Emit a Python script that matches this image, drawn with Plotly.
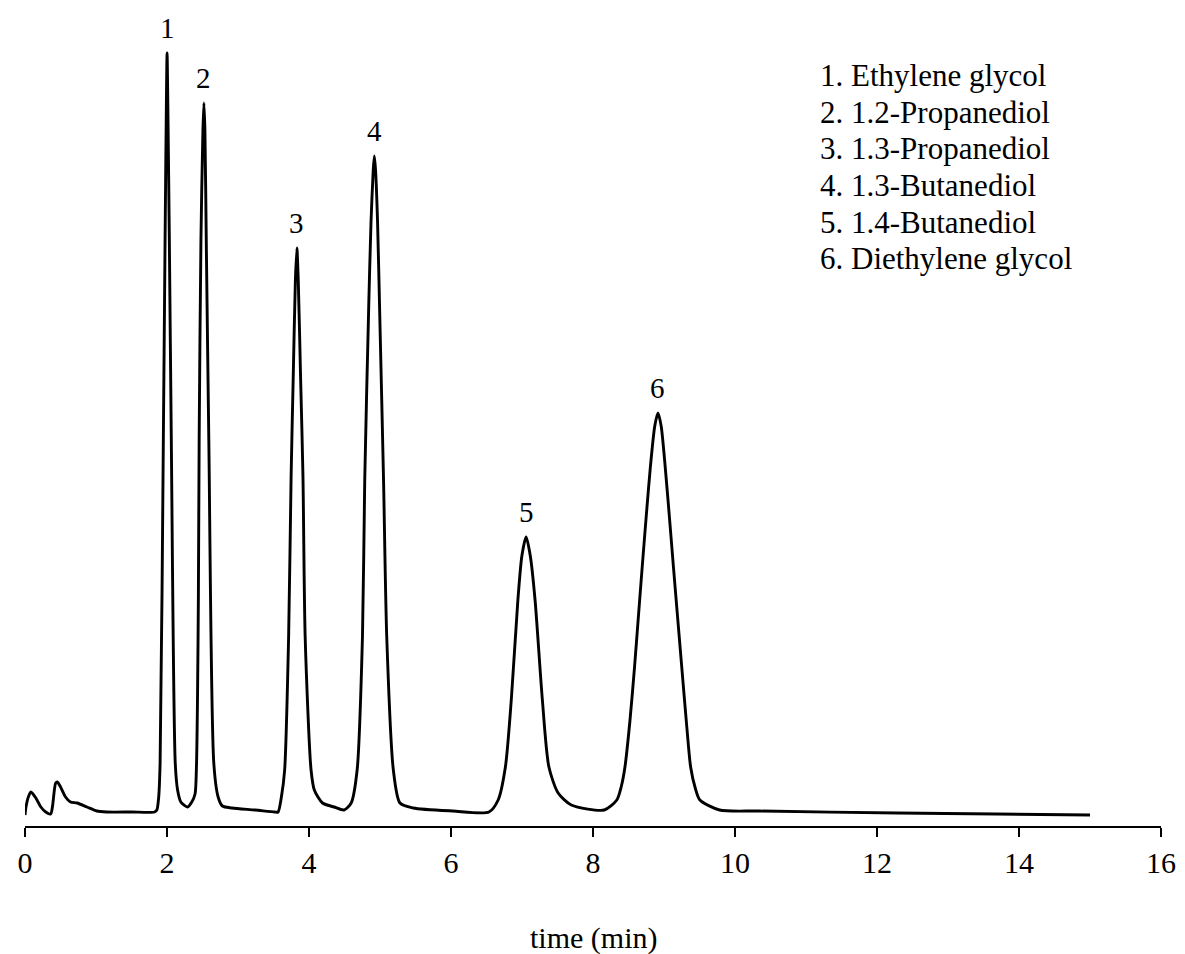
import plotly.graph_objects as go

# Chromatogram trace: time (min) and detector signal (arbitrary units)
time_min = [
    0.0, 0.014, 0.047, 0.084, 0.153, 0.223, 0.292, 0.362, 0.386, 0.432, 0.455, 0.501,
    0.571, 0.640, 0.734, 0.873, 1.012, 1.151, 1.500, 1.824, 1.857, 1.882, 1.903,
    1.949, 1.973, 1.991, 2.001, 2.012, 2.033, 2.060, 2.116, 2.149, 2.195, 2.289,
    2.349, 2.395, 2.415, 2.430, 2.442, 2.453, 2.478, 2.506, 2.520, 2.534, 2.553, 2.589,
    2.659, 2.720, 2.780, 2.915, 3.240, 3.518,
    3.564, 3.611, 3.657, 3.713, 3.748, 3.779, 3.808, 3.829, 3.849, 3.880, 3.915,
    3.946, 4.029, 4.075, 4.190, 4.353, 4.493,
    4.594, 4.678, 4.753, 4.785, 4.841, 4.873, 4.904, 4.920, 4.938, 4.966,
    4.994, 5.050, 5.095, 5.188, 5.281, 5.467, 6.024, 6.535,
    6.664, 6.766, 6.849, 6.942, 6.998, 7.058, 7.117, 7.184, 7.287,
    7.379, 7.509, 7.694, 8.158,
    8.335, 8.400, 8.450, 8.520, 8.585, 8.640, 8.693, 8.750, 8.808, 8.870, 8.915,
    8.960, 9.017, 9.075, 9.133, 9.190, 9.250, 9.320, 9.375, 9.440, 9.505,
    9.783, 10.337, 12.290, 13.680, 15.000,
]
signal = [
    11, 19, 29, 34, 28, 19, 14, 12, 19, 43, 44, 39,
    29, 24, 23, 19, 15, 14, 14, 14, 16, 28, 63,
    391, 586, 720, 773, 720, 586, 391, 63, 36, 24, 19,
    24, 32, 60, 130, 229, 386, 586, 696, 723, 696, 586, 386,
    63, 29, 20, 18, 16, 14,
    14, 29, 56, 189, 350, 453, 545, 578, 545, 453, 350,
    189, 56, 36, 23, 19, 16,
    23, 56, 189, 346, 519, 603, 655, 670, 655, 603,
    519, 346, 189, 56, 23, 18, 15, 14,
    26, 59, 126, 226, 270, 289, 270, 226, 126,
    59, 33, 21, 16,
    26, 40, 59, 105, 159, 210, 259, 310, 359, 400, 413,
    400, 359, 310, 259, 210, 159, 100, 59, 38, 26,
    16, 15, 13, 12, 11,
]

peak_numbers = ["1", "2", "3", "4", "5", "6"]
peak_times = [2.001, 2.520, 3.829, 4.920, 7.058, 8.915]
peak_heights = [773, 723, 578, 670, 289, 413]

compounds = [
    "1. Ethylene glycol",
    "2. 1.2-Propanediol",
    "3. 1.3-Propanediol",
    "4. 1.3-Butanediol",
    "5. 1.4-Butanediol",
    "6. Diethylene glycol",
]
# vertical centre of each compound line, in the chart's signal units
compound_rows = [751, 714, 678, 641, 604, 568]

x_ticks = [0, 2, 4, 6, 8, 10, 12, 14, 16]

FONT = "Liberation Serif"

fig = go.Figure()
fig.add_trace(go.Scatter(
    x=time_min, y=signal, mode="lines",
    line=dict(color="black", width=2.9, shape="spline", smoothing=0.7),
    showlegend=False, hoverinfo="skip",
))

for lab, t, h in zip(peak_numbers, peak_times, peak_heights):
    fig.add_annotation(x=t, y=h, text=lab, showarrow=False, xanchor="center",
                       yanchor="middle", yshift=25,
                       font=dict(family=FONT, size=29, color="black"))

for name, row in zip(compounds, compound_rows):
    fig.add_annotation(x=11.175, y=row, xref="x", yref="y", text=name,
                       showarrow=False, xanchor="left", yanchor="middle", align="left",
                       font=dict(family=FONT, size=31, color="black"))

fig.add_annotation(x=0.5, y=-0.14, xref="paper", yref="paper", text="time (min)",
                   showarrow=False, xanchor="center", yanchor="middle",
                   font=dict(family=FONT, size=30, color="black"))

fig.update_layout(
    width=1177, height=946,
    margin=dict(l=9, r=19, t=18, b=128),
    paper_bgcolor="white", plot_bgcolor="white",
    font=dict(family=FONT, size=30, color="black"),
    xaxis=dict(range=[0, 16], tickvals=x_ticks, ticktext=[str(v) for v in x_ticks],
               showgrid=False, zeroline=False, showline=True, linecolor="black",
               linewidth=2, ticks="outside", ticklen=9, tickwidth=2, tickcolor="black",
               ticklabeloverflow="allow",
               tickfont=dict(family=FONT, size=30, color="black")),
    yaxis=dict(range=[0, 800], visible=False, showgrid=False, zeroline=False),
)

fig.write_html("out.html")
